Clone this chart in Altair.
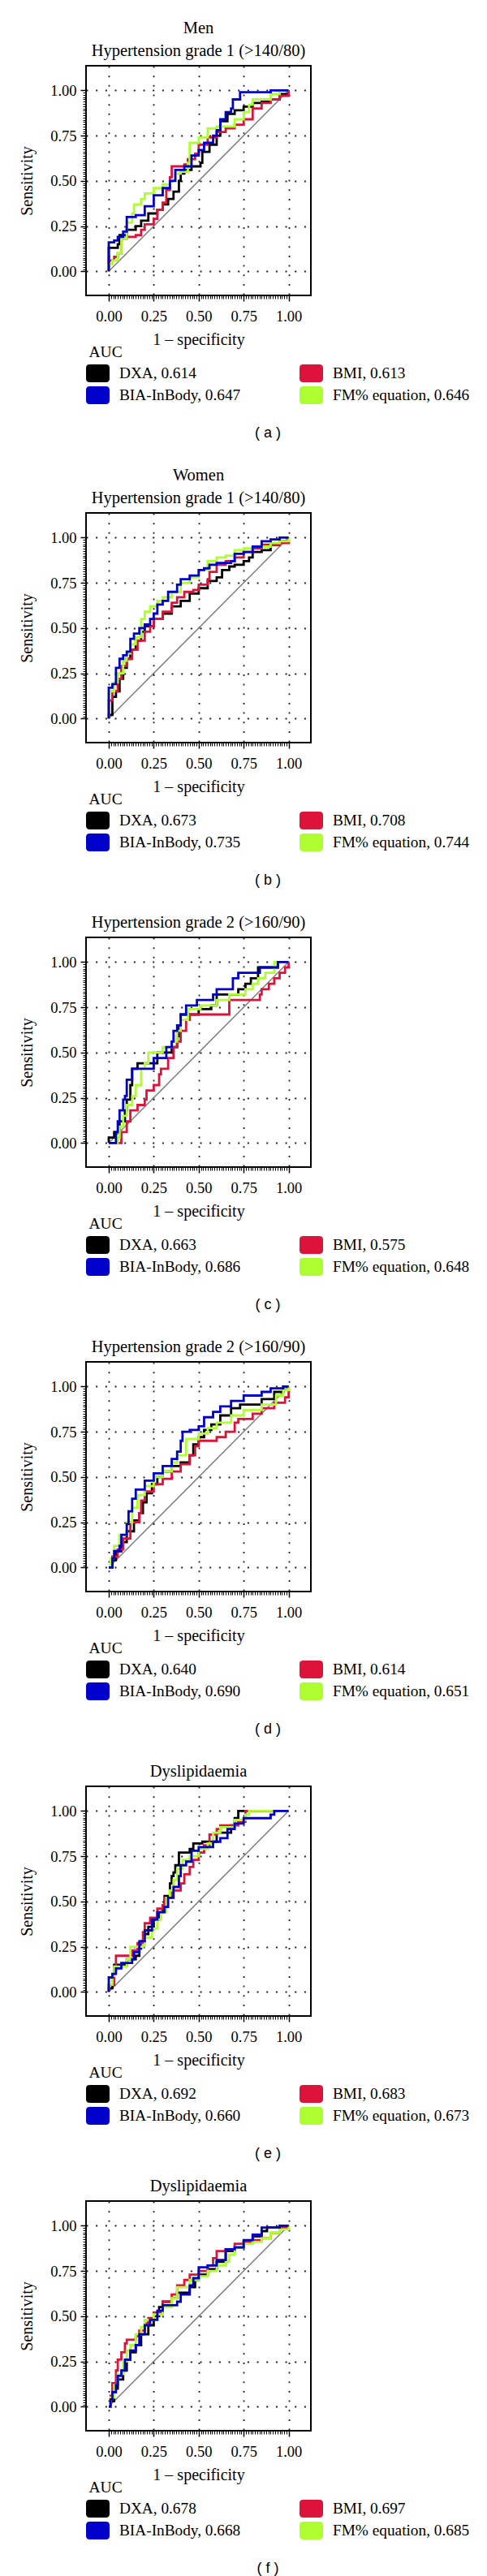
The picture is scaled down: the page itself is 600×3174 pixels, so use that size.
import altair as alt
import pandas as pd

# ---------------- data ----------------
# legend order (Vega fills legend columns first): DXA, BIA-InBody | BMI, FM% equation
SERIES = ["DXA", "BIA-InBody", "BMI", "FM% equation"]
COLORS = ["#000000", "#0000CD", "#DC143C", "#ADFF2F"]
DRAW_ORDER = ["DXA", "BMI", "FM% equation", "BIA-InBody"]

TITLES = [
    ["Men", "Hypertension grade 1 (>140/80)"],
    ["Women", "Hypertension grade 1 (>140/80)"],
    ["Hypertension grade 2 (>160/90)"],
    ["Hypertension grade 2 (>160/90)"],
    ["Dyslipidaemia"],
    ["Dyslipidaemia"],
]
CAPTIONS = ["( a )", "( b )", "( c )", "( d )", "( e )", "( f )"]

AUC_A = {"DXA": "0.614", "BMI": "0.613", "BIA-InBody": "0.647", "FM% equation": "0.646"}
AUC_B = {"DXA": "0.673", "BMI": "0.708", "BIA-InBody": "0.735", "FM% equation": "0.744"}
AUC_C = {"DXA": "0.663", "BMI": "0.575", "BIA-InBody": "0.686", "FM% equation": "0.648"}
AUC_D = {"DXA": "0.640", "BMI": "0.614", "BIA-InBody": "0.690", "FM% equation": "0.651"}
AUC_E = {"DXA": "0.692", "BMI": "0.683", "BIA-InBody": "0.660", "FM% equation": "0.673"}
AUC_F = {"DXA": "0.678", "BMI": "0.697", "BIA-InBody": "0.668", "FM% equation": "0.685"}

# ROC corner points (1 - specificity, sensitivity), drawn as step-after lines
A_DXA = [(0,0),(0,0.13),(0.02,0.13),(0.05,0.15),(0.06,0.2),(0.1,0.23),(0.15,0.25),(0.18,0.28),(0.22,0.32),(0.27,0.34),(0.3,0.37),(0.33,0.4),(0.36,0.44),(0.39,0.5),(0.4,0.54),(0.42,0.56),(0.46,0.58),(0.51,0.6),(0.52,0.66),(0.56,0.7),(0.6,0.75),(0.62,0.83),(0.66,0.87),(0.7,0.89),(0.75,0.91),(0.8,0.93),(0.85,0.94),(0.89,0.95),(0.95,0.98),(1,1)]
A_BMI = [(0,0),(0,0.06),(0.03,0.08),(0.05,0.1),(0.07,0.18),(0.1,0.19),(0.15,0.2),(0.18,0.23),(0.2,0.26),(0.25,0.29),(0.27,0.34),(0.3,0.38),(0.32,0.45),(0.34,0.52),(0.35,0.58),(0.42,0.59),(0.44,0.62),(0.48,0.65),(0.5,0.7),(0.55,0.74),(0.6,0.77),(0.65,0.79),(0.7,0.81),(0.75,0.84),(0.8,0.9),(0.85,0.93),(0.9,0.95),(0.95,0.97),(1,1)]
A_BIA = [(0,0),(0,0.16),(0.03,0.17),(0.05,0.19),(0.08,0.22),(0.1,0.3),(0.15,0.31),(0.2,0.36),(0.25,0.42),(0.3,0.46),(0.34,0.5),(0.37,0.56),(0.42,0.58),(0.46,0.64),(0.5,0.67),(0.53,0.71),(0.58,0.75),(0.6,0.78),(0.62,0.84),(0.65,0.88),(0.68,0.9),(0.69,0.95),(0.73,0.99),(0.9,1.0),(1,1)]
A_FM = [(0,0),(0,0.04),(0.02,0.06),(0.05,0.1),(0.07,0.18),(0.1,0.27),(0.13,0.32),(0.14,0.37),(0.18,0.4),(0.2,0.43),(0.25,0.46),(0.3,0.48),(0.34,0.5),(0.37,0.54),(0.4,0.55),(0.44,0.6),(0.45,0.71),(0.5,0.74),(0.55,0.79),(0.6,0.8),(0.65,0.8),(0.7,0.84),(0.75,0.88),(0.78,0.92),(0.8,0.95),(0.9,0.98),(0.95,1.0),(1,1)]

B_DXA = [(0,0),(0,0.02),(0.02,0.12),(0.04,0.15),(0.06,0.22),(0.08,0.28),(0.1,0.33),(0.12,0.38),(0.15,0.43),(0.18,0.48),(0.2,0.51),(0.25,0.55),(0.3,0.58),(0.35,0.62),(0.4,0.65),(0.45,0.69),(0.5,0.72),(0.55,0.76),(0.6,0.78),(0.63,0.82),(0.67,0.84),(0.7,0.85),(0.75,0.87),(0.78,0.89),(0.8,0.92),(0.85,0.93),(0.9,0.96),(0.95,0.98),(1,1)]
B_BMI = [(0,0),(0,0.1),(0.02,0.15),(0.05,0.22),(0.07,0.29),(0.1,0.33),(0.13,0.38),(0.16,0.43),(0.2,0.48),(0.23,0.51),(0.25,0.55),(0.3,0.59),(0.35,0.64),(0.38,0.67),(0.42,0.7),(0.47,0.71),(0.5,0.74),(0.55,0.77),(0.56,0.81),(0.6,0.85),(0.65,0.87),(0.7,0.89),(0.75,0.92),(0.8,0.94),(0.85,0.96),(0.9,0.96),(0.95,0.97),(1,1)]
B_BIA = [(0,0),(0,0.17),(0.02,0.19),(0.04,0.28),(0.06,0.33),(0.08,0.35),(0.1,0.37),(0.12,0.44),(0.14,0.47),(0.17,0.5),(0.2,0.52),(0.23,0.55),(0.25,0.58),(0.27,0.63),(0.3,0.65),(0.33,0.7),(0.38,0.74),(0.4,0.77),(0.45,0.79),(0.5,0.82),(0.53,0.83),(0.56,0.85),(0.6,0.86),(0.68,0.87),(0.7,0.91),(0.75,0.92),(0.8,0.95),(0.85,0.98),(0.9,0.99),(0.95,1.0),(1,1)]
B_FM = [(0,0),(0,0.15),(0.03,0.2),(0.05,0.25),(0.08,0.32),(0.1,0.36),(0.12,0.41),(0.15,0.45),(0.18,0.55),(0.2,0.59),(0.23,0.62),(0.27,0.65),(0.3,0.67),(0.35,0.7),(0.4,0.75),(0.45,0.78),(0.5,0.82),(0.55,0.87),(0.6,0.89),(0.65,0.9),(0.7,0.93),(0.75,0.94),(0.8,0.95),(0.9,0.97),(0.95,0.98),(1,1)]

C_DXA = [(0,0),(0,0.03),(0.03,0.06),(0.06,0.12),(0.09,0.18),(0.1,0.24),(0.12,0.32),(0.13,0.41),(0.16,0.44),(0.27,0.5),(0.35,0.53),(0.38,0.59),(0.39,0.65),(0.4,0.71),(0.5,0.74),(0.57,0.76),(0.6,0.82),(0.72,0.85),(0.76,0.88),(0.79,0.91),(0.83,0.97),(0.94,1.0),(1,1)]
C_BMI = [(0,0),(0.07,0.06),(0.1,0.12),(0.12,0.18),(0.16,0.21),(0.2,0.24),(0.21,0.29),(0.25,0.32),(0.28,0.38),(0.29,0.41),(0.33,0.47),(0.36,0.53),(0.38,0.56),(0.4,0.62),(0.43,0.68),(0.45,0.71),(0.67,0.79),(0.84,0.82),(0.85,0.85),(0.89,0.88),(0.92,0.91),(0.95,0.94),(0.98,0.97),(1,1)]
C_BIA = [(0,0),(0.04,0.06),(0.05,0.12),(0.06,0.18),(0.08,0.24),(0.09,0.26),(0.1,0.35),(0.13,0.41),(0.25,0.47),(0.32,0.53),(0.35,0.56),(0.36,0.62),(0.38,0.65),(0.4,0.71),(0.43,0.76),(0.49,0.79),(0.58,0.82),(0.6,0.85),(0.69,0.91),(0.72,0.94),(0.84,0.97),(0.94,1.0),(1,1)]
C_FM = [(0,0),(0.05,0.03),(0.06,0.09),(0.08,0.15),(0.1,0.21),(0.13,0.26),(0.15,0.32),(0.18,0.41),(0.2,0.44),(0.22,0.5),(0.3,0.53),(0.35,0.56),(0.38,0.62),(0.4,0.68),(0.44,0.74),(0.51,0.76),(0.6,0.79),(0.67,0.82),(0.76,0.85),(0.8,0.88),(0.83,0.91),(0.87,0.94),(0.92,1.0),(1,1)]

D_DXA = [(0,0),(0.02,0.04),(0.04,0.09),(0.07,0.14),(0.1,0.2),(0.14,0.26),(0.17,0.3),(0.19,0.36),(0.21,0.41),(0.24,0.46),(0.27,0.5),(0.3,0.53),(0.35,0.56),(0.4,0.58),(0.45,0.62),(0.47,0.68),(0.5,0.72),(0.53,0.76),(0.57,0.79),(0.62,0.84),(0.68,0.88),(0.73,0.9),(0.85,0.93),(0.92,0.97),(0.97,1.0),(1,1)]
D_BMI = [(0,0),(0.02,0.06),(0.05,0.1),(0.08,0.16),(0.12,0.25),(0.17,0.3),(0.18,0.37),(0.2,0.42),(0.25,0.46),(0.3,0.49),(0.35,0.53),(0.4,0.57),(0.45,0.62),(0.48,0.67),(0.5,0.7),(0.6,0.72),(0.65,0.75),(0.7,0.8),(0.72,0.82),(0.8,0.85),(0.85,0.88),(0.92,0.91),(0.98,0.94),(1,1)]
D_BIA = [(0,0),(0.02,0.05),(0.03,0.09),(0.06,0.12),(0.07,0.18),(0.1,0.24),(0.11,0.31),(0.13,0.38),(0.15,0.43),(0.2,0.48),(0.25,0.52),(0.3,0.56),(0.35,0.6),(0.38,0.64),(0.4,0.7),(0.41,0.75),(0.45,0.76),(0.5,0.78),(0.53,0.83),(0.58,0.86),(0.62,0.89),(0.68,0.92),(0.75,0.95),(0.85,0.97),(0.9,0.99),(0.97,1.0),(1,1)]
D_FM = [(0,0),(0.01,0.05),(0.03,0.12),(0.06,0.18),(0.1,0.25),(0.13,0.33),(0.16,0.4),(0.2,0.45),(0.25,0.5),(0.3,0.53),(0.35,0.58),(0.38,0.62),(0.43,0.71),(0.5,0.74),(0.55,0.77),(0.6,0.8),(0.68,0.84),(0.75,0.87),(0.85,0.9),(0.93,0.95),(0.97,0.98),(1,1)]

E_DXA = [(0,0),(0,0.02),(0.02,0.04),(0.03,0.15),(0.1,0.18),(0.15,0.2),(0.17,0.24),(0.18,0.28),(0.2,0.32),(0.22,0.36),(0.25,0.4),(0.28,0.44),(0.3,0.48),(0.31,0.53),(0.34,0.6),(0.35,0.64),(0.36,0.66),(0.37,0.7),(0.39,0.77),(0.45,0.79),(0.47,0.82),(0.52,0.83),(0.6,0.88),(0.68,0.92),(0.7,0.96),(0.72,1.0),(1,1)]
E_BMI = [(0,0),(0,0.04),(0.03,0.12),(0.04,0.2),(0.1,0.2),(0.13,0.23),(0.16,0.27),(0.19,0.33),(0.2,0.38),(0.23,0.41),(0.27,0.46),(0.3,0.48),(0.31,0.52),(0.35,0.56),(0.4,0.6),(0.42,0.65),(0.45,0.69),(0.47,0.73),(0.5,0.77),(0.53,0.81),(0.56,0.87),(0.6,0.9),(0.62,0.92),(0.72,0.94),(0.76,1.0),(1,1)]
E_BIA = [(0,0),(0,0.08),(0.02,0.1),(0.04,0.13),(0.07,0.16),(0.13,0.18),(0.14,0.22),(0.17,0.28),(0.2,0.34),(0.24,0.4),(0.27,0.44),(0.31,0.47),(0.33,0.52),(0.36,0.58),(0.39,0.64),(0.4,0.7),(0.43,0.72),(0.46,0.78),(0.5,0.8),(0.58,0.83),(0.62,0.85),(0.66,0.9),(0.7,0.93),(0.75,0.96),(0.9,0.98),(0.92,1.0),(1,1)]
E_FM = [(0,0),(0,0.04),(0.02,0.09),(0.03,0.14),(0.1,0.18),(0.12,0.25),(0.19,0.26),(0.2,0.3),(0.24,0.35),(0.27,0.4),(0.29,0.44),(0.32,0.52),(0.34,0.56),(0.36,0.62),(0.38,0.68),(0.41,0.73),(0.45,0.75),(0.5,0.79),(0.55,0.82),(0.58,0.88),(0.62,0.91),(0.7,0.95),(0.76,0.98),(0.78,1.0),(1,1)]

F_DXA = [(0,0),(0.01,0.03),(0.03,0.1),(0.05,0.15),(0.08,0.2),(0.1,0.26),(0.12,0.3),(0.15,0.34),(0.18,0.4),(0.22,0.45),(0.25,0.5),(0.28,0.55),(0.3,0.58),(0.35,0.6),(0.38,0.63),(0.45,0.66),(0.48,0.7),(0.5,0.73),(0.55,0.76),(0.6,0.8),(0.65,0.86),(0.7,0.88),(0.75,0.91),(0.8,0.94),(0.85,0.97),(0.88,0.99),(0.95,1.0),(1,1)]
F_BMI = [(0,0),(0.01,0.06),(0.02,0.13),(0.04,0.2),(0.05,0.26),(0.07,0.3),(0.09,0.35),(0.1,0.37),(0.15,0.39),(0.17,0.42),(0.2,0.46),(0.22,0.49),(0.25,0.52),(0.3,0.58),(0.35,0.62),(0.38,0.67),(0.42,0.7),(0.45,0.73),(0.5,0.75),(0.55,0.78),(0.58,0.82),(0.6,0.86),(0.65,0.87),(0.7,0.9),(0.75,0.91),(0.8,0.92),(0.85,0.93),(0.9,0.96),(0.95,0.99),(1,1)]
F_BIA = [(0,0),(0.01,0.04),(0.02,0.08),(0.04,0.12),(0.05,0.17),(0.07,0.2),(0.09,0.26),(0.12,0.31),(0.15,0.34),(0.17,0.4),(0.2,0.45),(0.23,0.48),(0.27,0.53),(0.3,0.56),(0.38,0.58),(0.4,0.62),(0.45,0.67),(0.47,0.71),(0.5,0.77),(0.55,0.78),(0.6,0.81),(0.65,0.87),(0.7,0.88),(0.75,0.92),(0.8,0.95),(0.85,0.99),(0.95,1.0),(1,1)]
F_FM = [(0,0),(0.01,0.05),(0.03,0.12),(0.05,0.18),(0.08,0.25),(0.1,0.31),(0.12,0.34),(0.15,0.4),(0.18,0.44),(0.2,0.48),(0.25,0.51),(0.3,0.55),(0.35,0.6),(0.38,0.66),(0.45,0.7),(0.5,0.72),(0.55,0.75),(0.6,0.78),(0.65,0.8),(0.67,0.84),(0.7,0.88),(0.75,0.9),(0.8,0.91),(0.85,0.93),(0.9,0.96),(0.95,0.98),(1,1)]

CHANCE_X = [0, 1]
CHANCE_Y = [0, 1]

MAJOR_TICKS = [0, 0.25, 0.5, 0.75, 1]
MINOR_TICKS = [i / 80 for i in range(81)]

PANELS = [
    (AUC_A, {"DXA": A_DXA, "BMI": A_BMI, "BIA-InBody": A_BIA, "FM% equation": A_FM}),
    (AUC_B, {"DXA": B_DXA, "BMI": B_BMI, "BIA-InBody": B_BIA, "FM% equation": B_FM}),
    (AUC_C, {"DXA": C_DXA, "BMI": C_BMI, "BIA-InBody": C_BIA, "FM% equation": C_FM}),
    (AUC_D, {"DXA": D_DXA, "BMI": D_BMI, "BIA-InBody": D_BIA, "FM% equation": D_FM}),
    (AUC_E, {"DXA": E_DXA, "BMI": E_BMI, "BIA-InBody": E_BIA, "FM% equation": E_FM}),
    (AUC_F, {"DXA": F_DXA, "BMI": F_BMI, "BIA-InBody": F_BIA, "FM% equation": F_FM}),
]

# ---------------- styling ----------------
SERIF = "Liberation Serif"
SANS = "Liberation Sans"
W, H = 277, 283
XDOM = [-0.1264, 1.1236]
YDOM = [-0.133, 1.136]
SWATCH = ("M-0.9,-1 L0.9,-1 Q1.318,-1 1.318,-0.6 L1.318,0.6 Q1.318,1 0.9,1 "
          "L-0.9,1 Q-1.318,1 -1.318,0.6 L-1.318,-0.6 Q-1.318,-1 -0.9,-1 Z")


def major_axis(title, orient):
    return alt.Axis(
        values=MAJOR_TICKS, format=".2f", orient=orient, title=title,
        domain=False, tickSize=7, tickWidth=1.5, tickColor="black",
        labelFont=SERIF, labelFontSize=18.5, labelColor="black",
        labelPadding=9 if orient == "bottom" else 5,
        titleFont=SERIF, titleFontSize=20, titleFontWeight="normal",
        titleColor="black", titlePadding=10 if orient == "bottom" else 18,
        grid=True, gridColor="#222222", gridDash=[2, 9.67], gridWidth=1.8,
        labelFlush=False, labelOverlap=False,
    )


def minor_axis(orient):
    return alt.Axis(
        values=MINOR_TICKS, orient=orient, title=None, labels=False,
        domain=False, grid=False, tickSize=4, tickWidth=1, tickColor="black",
    )


def panel(idx):
    aucs, curves = PANELS[idx]
    labels = [f"{s}, {aucs[s]}" for s in SERIES]
    rows = []
    for s in SERIES:
        for i, (x, y) in enumerate(curves[s]):
            rows.append({"x": x, "y": y, "series": s,
                         "label": f"{s}, {aucs[s]}", "i": i})
    df = pd.DataFrame(rows)
    xs = alt.Scale(domain=XDOM, nice=False, zero=False)
    ys = alt.Scale(domain=YDOM, nice=False, zero=False)
    cs = alt.Scale(domain=labels, range=COLORS)

    legend = alt.Legend(
        title="AUC", orient="none", legendX=3.5, legendY=344,
        columns=2, columnPadding=72, rowPadding=5, padding=0,
        symbolType=SWATCH, symbolSize=484, symbolStrokeWidth=0,
        symbolOpacity=1, labelOffset=15.5,
        labelFont=SERIF, labelFontSize=19.3, labelColor="black", labelLimit=400,
        titleFont=SERIF, titleFontSize=19.5, titleFontWeight="normal",
        titleColor="black", titlePadding=4.5,
    )

    legend_layer = alt.Chart(df).transform_filter("datum.x > 5").mark_point(
        filled=True, shape=SWATCH, size=484, opacity=1
    ).encode(
        x=alt.X("x:Q", scale=xs, axis=minor_axis("bottom")),
        y=alt.Y("y:Q", scale=ys, axis=minor_axis("left")),
        color=alt.Color("label:N", scale=cs, legend=legend),
    )

    diag = alt.Chart(pd.DataFrame({"x": CHANCE_X, "y": CHANCE_Y})).mark_line(
        color="#7f7f7f", strokeWidth=1.5
    ).encode(
        x=alt.X("x:Q", scale=xs, axis=major_axis("1 – specificity", "bottom")),
        y=alt.Y("y:Q", scale=ys, axis=major_axis("Sensitivity", "left")),
    )

    lines = []
    for s in DRAW_ORDER:
        lines.append(
            alt.Chart(df).transform_filter(alt.datum.series == s).mark_line(
                interpolate="step-after", strokeWidth=2.8
            ).encode(
                x=alt.X("x:Q", scale=xs, axis=None),
                y=alt.Y("y:Q", scale=ys, axis=None),
                color=alt.Color("label:N", scale=cs, legend=None),
                order=alt.Order("i:Q"),
            )
        )

    caption = alt.Chart(pd.DataFrame({"t": [CAPTIONS[idx]]})).mark_text(
        font=SANS, fontSize=18, color="black"
    ).encode(text="t:N", x=alt.value(224), y=alt.value(453))

    return alt.layer(legend_layer, diag, *lines, caption).resolve_axis(
        x="independent", y="independent"
    ).properties(
        width=W, height=H,
        title=alt.TitleParams(
            text=TITLES[idx], font=SERIF, fontSize=20.5, fontWeight="normal",
            color="black", lineHeight=28, anchor="middle", frame="group",
            offset=8,
        ),
    )


upper = alt.vconcat(*[panel(i) for i in range(5)], spacing=30).resolve_scale(
    color="independent"
)
chart = alt.vconcat(upper, panel(5), spacing=18).resolve_scale(
    color="independent"
).properties(
    padding={"left": 14, "top": 15, "right": 5, "bottom": 2}
).configure_view(stroke="black", strokeWidth=2)

chart.save("out.html", embed_options={"renderer": "svg", "actions": False})
